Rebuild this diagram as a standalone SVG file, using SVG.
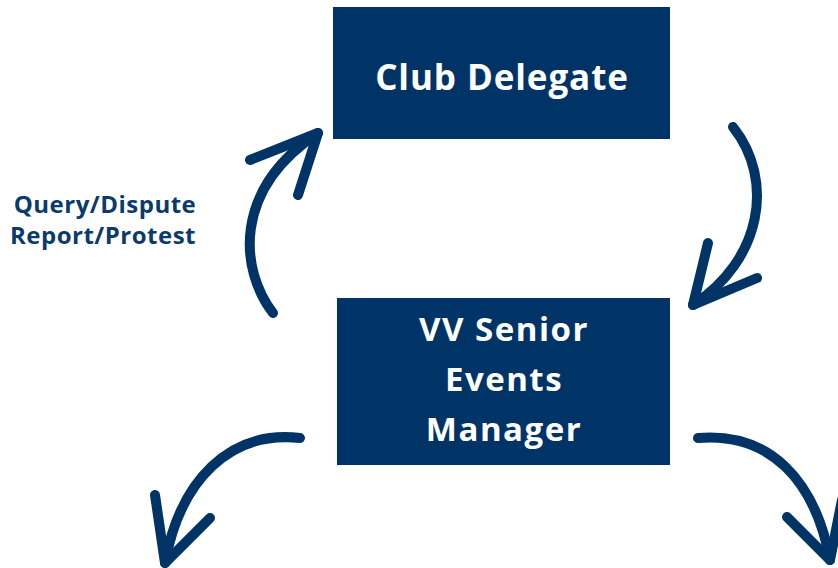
<svg xmlns="http://www.w3.org/2000/svg" width="838" height="568" viewBox="0 0 838 568">
<style>
.box{fill:#013466;}
.bt{fill:#ffffff;font-family:"Open Sans","Liberation Sans",sans-serif;font-weight:700;text-anchor:middle;}
.lbl{fill:#0b3a6c;font-family:"Open Sans","Liberation Sans",sans-serif;font-weight:700;font-size:24px;letter-spacing:0.5px;}
.arr{fill:none;stroke:#013466;stroke-width:10;stroke-linecap:round;stroke-linejoin:round;}
</style>
<rect width="838" height="568" fill="#ffffff"/>
<g id="club-delegate">
<rect class="box" x="333" y="7" width="337" height="132"/>
<text class="bt" x="502" y="90" font-size="35" letter-spacing="0.9">Club Delegate</text>
</g>
<g id="vv-senior-events-manager">
<rect class="box" x="337" y="298" width="333" height="167"/>
<text class="bt" x="504" y="341" font-size="33" letter-spacing="1.5">VV Senior</text>
<text class="bt" x="504" y="391" font-size="33" letter-spacing="1.5">Events</text>
<text class="bt" x="504" y="441" font-size="33" letter-spacing="1.5">Manager</text>
</g>
<g id="label-query">
<text class="lbl" x="105" y="213" text-anchor="middle">Query/Dispute</text>
<text class="lbl" x="103" y="244" text-anchor="middle">Report/Protest</text>
</g>
<g id="connectors">
<path class="arr" d="M273 313 C240 270 232 190 318 133"/>
<path class="arr" d="M250 160 L318 133 L298 195"/>
<path class="arr" d="M733 127 C775 180 762 260 693 305"/>
<path class="arr" d="M708 243 L693 305 L757 278"/>
<path class="arr" d="M300 438 C230 430 180 480 165 563"/>
<path class="arr" d="M155 495 L165 563 L210 518"/>
<path class="arr" d="M698 438 C770 432 815 480 830 560"/>
<path class="arr" d="M787 517 L830 560 L842 500"/>
</g>
</svg>
